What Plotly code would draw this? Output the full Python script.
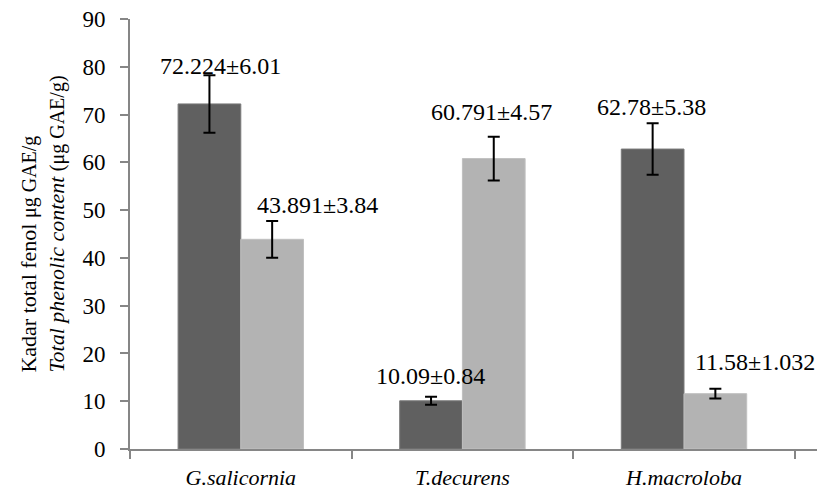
import plotly.graph_objects as go

categories = ["G.salicornia", "T.decurens", "H.macroloba"]
series1_values = [72.224, 10.09, 62.78]
series1_errors = [6.01, 0.84, 5.38]
series2_values = [43.891, 60.791, 11.58]
series2_errors = [3.84, 4.57, 1.032]
y_ticks = [0, 10, 20, 30, 40, 50, 60, 70, 80, 90]

# label placement (style only): pixel offsets from category centre / error-bar top
s1_label_dx = [-20, -32, -33]
s1_label_dy = [9, 21, 16]
s2_label_dx = [77, 29, 71]
s2_label_dy = [16, 25, 27]

FONT = "Liberation Serif, Times New Roman, serif"
AXIS_COLOR = "#868686"

fig = go.Figure()
fig.add_trace(go.Bar(
    x=categories, y=series1_values,
    marker=dict(color="#606060", line=dict(color="#7a7a7a", width=1)),
    error_y=dict(type="data", array=series1_errors, color="black", thickness=2, width=6),
    showlegend=False, hoverinfo="skip",
))
fig.add_trace(go.Bar(
    x=categories, y=series2_values,
    marker=dict(color="#b3b3b3", line=dict(color="#c0c0c0", width=1)),
    error_y=dict(type="data", array=series2_errors, color="black", thickness=2, width=6),
    showlegend=False, hoverinfo="skip",
))

annotations = []
for vals, errs, dxs, dys in [(series1_values, series1_errors, s1_label_dx, s1_label_dy),
                             (series2_values, series2_errors, s2_label_dx, s2_label_dy)]:
    for c, v, e, dx, dy in zip(categories, vals, errs, dxs, dys):
        annotations.append(dict(
            x=c, y=v + e, xref="x", yref="y", text=f"{v}±{e}",
            showarrow=False, xanchor="center", yanchor="middle",
            xshift=dx, yshift=dy,
            font=dict(family=FONT, size=24, color="black"),
        ))

annotations.append(dict(
    xref="paper", yref="paper", x=-0.128, y=0.522,
    xanchor="center", yanchor="middle", textangle=-90, align="left",
    showarrow=False,
    text=("Kadar total fenol <span style='font-size:20px'>μg GAE/g</span><br>"
          "<i>Total phenolic content</i> <span style='font-size:20px'>(μg GAE/g)</span>"),
    font=dict(family=FONT, size=22, color="black"),
))

fig.update_layout(
    width=835, height=495,
    margin=dict(l=130, r=18, t=19, b=46),
    paper_bgcolor="white", plot_bgcolor="white",
    barmode="group", bargap=0.434, bargroupgap=0,
    font=dict(family=FONT, size=22, color="black"),
    annotations=annotations,
    xaxis=dict(
        automargin=False,
        showline=True, linecolor=AXIS_COLOR, linewidth=2,
        ticks="outside", tickson="boundaries", ticklen=8, tickwidth=2, tickcolor=AXIS_COLOR,
        ticklabelstandoff=8,
        tickfont=dict(family=FONT, size=22, style="italic", color="black"),
        showgrid=False, zeroline=False,
    ),
    yaxis=dict(
        automargin=False,
        range=[0, 90], tickvals=y_ticks, ticktext=[str(t) for t in y_ticks],
        showline=True, linecolor=AXIS_COLOR, linewidth=2,
        ticks="outside", ticklen=8, tickwidth=2, tickcolor=AXIS_COLOR,
        ticklabelstandoff=10,
        tickfont=dict(family=FONT, size=23, color="black"),
        showgrid=False, zeroline=False,
    ),
)

# remove the default 8px page margin so the figure sits at the window origin
fig.write_html("out.html", config={"displayModeBar": False},
               post_script="document.body.style.margin='0px';")
